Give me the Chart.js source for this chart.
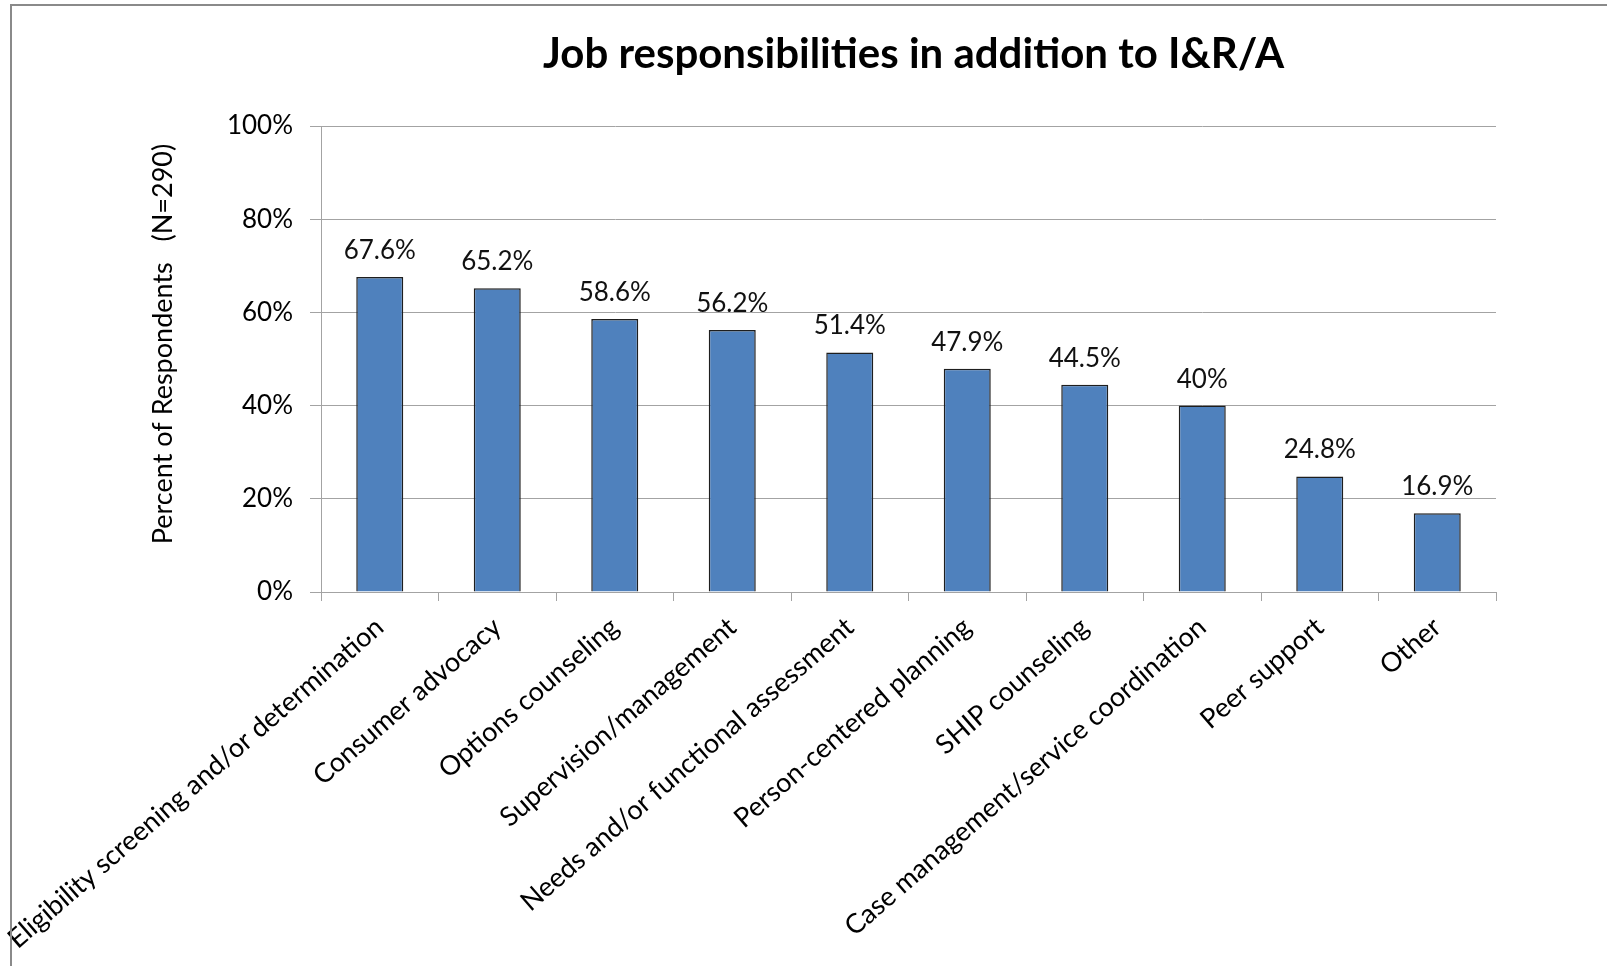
<!DOCTYPE html>
<html>
<head>
<meta charset="utf-8">
<title>Job responsibilities in addition to I&amp;R/A</title>
<script src="https://cdn.jsdelivr.net/npm/chart.js"></script>
<style>
    body { margin: 0; background: #fff; overflow: hidden; }
    #wrap { position: relative; width: 1607px; height: 966px; }
    #frame {
        position: absolute; left: 10px; top: 4px; right: -20px; bottom: -20px;
        border: 2px solid #8a8a8a; pointer-events: none;
    }
</style>
</head>
<body>
<div id="wrap">
    <canvas id="myChart" width="1607" height="966"></canvas>
    <div id="frame"></div>
</div>
<script>
// chart data
var chartTitle = "Job responsibilities in addition to I&R/A";
var yTitle = "Percent of Respondents   (N=290)";
var categories = [
    "Eligibility screening and/or determination",
    "Consumer advocacy",
    "Options counseling",
    "Supervision/management",
    "Needs and/or functional assessment",
    "Person-centered planning",
    "SHIP counseling",
    "Case management/service coordination",
    "Peer support",
    "Other"
];
var percents = [67.6, 65.2, 58.6, 56.2, 51.4, 47.9, 44.5, 40, 24.8, 16.9];
var yTicks = [0, 20, 40, 60, 80, 100];

var fontName = "Lato, 'Open Sans', sans-serif";
var gridGrey = "#a3a3a3";

// chart title over the middle of the plot area, y title beside the axis
var titlePlugin = {
    id: "plotTitles",
    afterDraw: function(chart){
        var ctx = chart.ctx;
        var area = chart.chartArea;
        ctx.save();
        ctx.font = "bold 42px " + fontName;
        ctx.fillStyle = "#000";
        ctx.textAlign = "center";
        ctx.textBaseline = "alphabetic";
        ctx.fillText(chartTitle, (area.left + area.right) / 2 + 5, 68);

        // y axis title sits a bit above the middle of the axis
        ctx.font = "27px " + fontName;
        ctx.textBaseline = "middle";
        ctx.translate(163, (area.top + area.bottom) / 2 - 15);
        ctx.rotate(-Math.PI / 2);
        ctx.fillText(yTitle, 0, 0);
        ctx.restore();
    }
};

// value labels above each bar
var valuePlugin = {
    id: "barValues",
    afterDatasetsDraw: function(chart){
        var ctx = chart.ctx;
        var meta = chart.getDatasetMeta(0);
        ctx.save();
        ctx.font = "26px " + fontName;
        ctx.fillStyle = "#111";
        ctx.textAlign = "center";
        ctx.textBaseline = "alphabetic";
        for(var i = 0; i < meta.data.length; i++){
            var bar = meta.data[i];
            ctx.fillText(percents[i] + "%", bar.x, bar.y - 18);
        }
        ctx.restore();
    }
};

var ctx = document.getElementById("myChart").getContext("2d");
var chart = new Chart(ctx, {
    type: "bar",
    data: {
        labels: categories,
        datasets: [{
            data: percents,
            backgroundColor: "#4f81bd",
            borderColor: "#1e1e1e",
            borderWidth: 1.5,
            barPercentage: 0.4,
            categoryPercentage: 1.0
        }]
    },
    options: {
        responsive: false,
        animation: false,
        devicePixelRatio: 1,
        layout: { padding: { top: 126, right: 111, bottom: 0, left: 0 } },
        plugins: {
            legend: { display: false },
            tooltip: { enabled: false }
        },
        scales: {
            x: {
                grid: { drawOnChartArea: false, offset: true, tickLength: 9, color: gridGrey },
                border: { color: gridGrey, width: 1 },
                ticks: {
                    minRotation: 41,
                    maxRotation: 41,
                    autoSkip: false,
                    padding: 10,
                    color: "#000",
                    font: { family: fontName, size: 27 }
                },
                afterFit: function(scale){
                    // long first label may hang out to the left, don't let it push the plot
                    scale.height = 374;
                    scale.paddingLeft = 0;
                    scale.paddingRight = 0;
                }
            },
            y: {
                min: 0,
                max: 100,
                afterBuildTicks: function(scale){
                    scale.ticks = yTicks.map(function(v){ return { value: v }; });
                },
                grid: { color: gridGrey, tickLength: 11 },
                border: { color: gridGrey, width: 1 },
                ticks: {
                    padding: 17,
                    color: "#000",
                    font: { family: fontName, size: 26 },
                    callback: function(v){ return v + "%"; }
                },
                afterFit: function(scale){ scale.width = 321; }
            }
        }
    },
    plugins: [titlePlugin, valuePlugin]
});
</script>
</body>
</html>
